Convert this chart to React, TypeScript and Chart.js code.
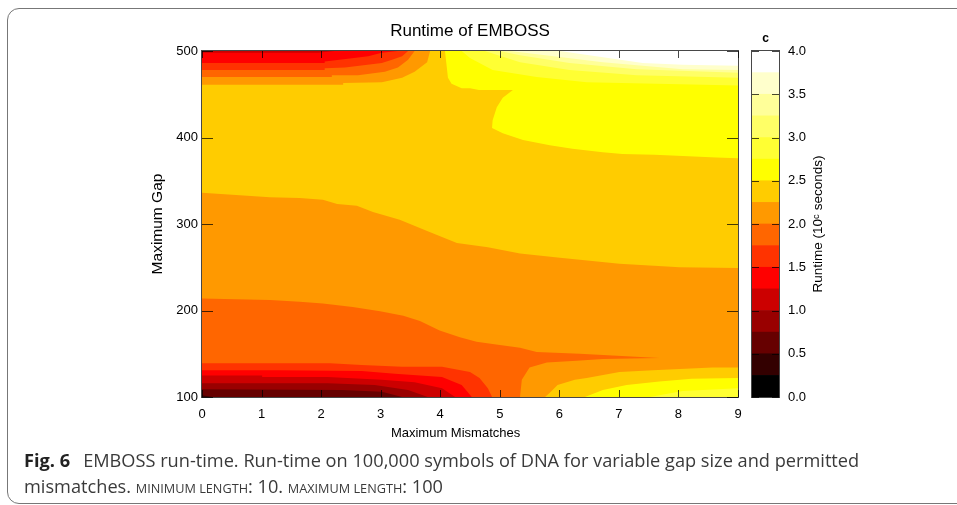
import React, { useEffect, useRef } from "react";
import { Chart, registerables } from "chart.js";

Chart.register(...registerables);

type P = [number, number];

const xTicksMax = 9;
const yMin = 100;
const yMax = 500;

// Runtime bands of the colour bar (bottom to top, 0.25 wide each)
const barBandWidth = 0.25;
const barColors = [
  "#000000", "#330000", "#660000", "#990000", "#cc0000", "#ff0000", "#ff3300", "#ff6600",
  "#ff9900", "#ffcc00", "#ffff00", "#ffff33", "#ffff66", "#ffff99", "#ffffcc", "#ffffff",
];

// Contour regions in data units (mismatches, gap)
const regionAll: P[] = [[0, 100], [9, 100], [9, 500], [0, 500]];
const regionUpper: P[] = [[0, 336], [1.14, 331], [1.64, 330], [2.03, 328], [2.27, 323], [2.6, 321], [2.87, 314], [3.32, 305], [3.78, 292], [4.28, 278], [4.8, 273], [5.34, 266], [6.01, 261], [7.01, 254], [8.02, 250], [9, 249], [9, 500], [0, 500]];

const topLeft22: P[] = [[0, 461], [2.37, 461], [2.37, 463], [3.02, 464], [3.36, 469], [3.57, 476], [3.78, 487], [3.83, 500], [0, 500]];
const topLeft20: P[] = [[0, 470], [2.18, 470], [2.18, 472], [2.62, 472], [3.07, 476], [3.29, 481], [3.46, 490], [3.57, 500], [0, 500]];
const topLeft17: P[] = [[0, 478], [2.06, 478], [2.06, 480], [2.4, 481], [3.02, 486], [3.19, 490], [3.36, 494], [3.46, 500], [0, 500]];
const topLeft15: P[] = [[0, 486], [2.06, 486], [2.06, 488], [2.45, 491], [2.79, 494], [3.02, 498], [3.29, 500], [0, 500]];
const topLeft12: P[] = [[0, 498], [1.95, 498], [2.23, 500], [0, 500]];

const topRight25: P[] = [[4.08, 500], [4.13, 469], [4.19, 462], [4.36, 457], [4.5, 457], [4.65, 455], [5.22, 455], [5.05, 446], [4.95, 435], [4.88, 420], [4.87, 411], [5.05, 405], [5.39, 397], [5.84, 391], [6.22, 387], [6.73, 383], [7.06, 381], [7.6, 380], [8.64, 377], [9, 376], [9, 500]];
const topRight27: P[] = [[4.36, 500], [4.5, 492], [4.88, 478], [5.62, 470], [6.46, 464], [9, 460], [9, 500]];
const topRight30: P[] = [[4.75, 500], [5.34, 487], [6.17, 478], [7.3, 472], [9, 469], [9, 500]];
const topRight32: P[] = [[5, 500], [5.34, 495], [6.17, 486], [7.3, 479], [9, 475], [9, 500]];
const topRight35: P[] = [[5.17, 500], [6.01, 493], [6.73, 487], [8.07, 479], [9, 478], [9, 500]];
const topRight37: P[] = [[6.01, 500], [7.4, 486], [8.07, 484], [9, 483], [9, 500]];

const lowLeft17: P[] = [[0, 214], [1.14, 212], [1.64, 210], [2.03, 208], [2.53, 204], [2.99, 199], [3.38, 194], [3.66, 188], [3.99, 177], [4.33, 169], [4.61, 164], [5, 160], [5.34, 157], [5.62, 152], [6.34, 150], [7.68, 145], [6.73, 144], [6.29, 142], [5.79, 140], [5.5, 134], [5.37, 120], [5.34, 100], [0, 100]];
const lowLeft15: P[] = [[0, 139], [2.15, 139], [2.68, 137], [3.36, 135], [4.03, 135], [4.5, 129], [4.66, 122], [4.8, 110], [4.87, 100], [0, 100]];
const lowLeft12: P[] = [[0, 131], [1.28, 131], [2.68, 130], [3.24, 127], [4.03, 123], [4.36, 114], [4.53, 100], [0, 100]];
const lowLeft10: P[] = [[0, 125], [1.01, 125], [1.01, 123], [2.11, 123], [3.02, 120], [3.57, 117], [4.03, 110], [4.25, 100], [0, 100]];
const lowLeft07: P[] = [[0, 116], [2.11, 116], [2.9, 114], [3.46, 108], [3.79, 100], [0, 100]];
const lowLeft05: P[] = [[0, 109], [2.35, 108], [3.02, 106], [3.36, 100], [0, 100]];
const lowLeft02: P[] = [[0, 102], [0.17, 100], [0, 100]];

const lowRight22: P[] = [[5.76, 100], [5.84, 105], [5.97, 114], [6.26, 120], [6.46, 122], [7.01, 129], [7.57, 131], [8.57, 134], [9, 134], [9, 100]];
const lowRight25: P[] = [[6.43, 100], [6.73, 108], [7.13, 114], [7.68, 118], [8.22, 121], [9, 122], [9, 100]];
const lowRight27: P[] = [[7.52, 100], [8.07, 107], [9, 110], [9, 100]];

const layers: [P[], string][] = [
  [regionAll, "#ff9900"], [regionUpper, "#ffcc00"],
  [topLeft22, "#ff9900"], [topLeft20, "#ff6600"], [topLeft17, "#ff3300"], [topLeft15, "#ff0000"], [topLeft12, "#cc0000"],
  [topRight25, "#ffff00"], [topRight27, "#ffff33"], [topRight30, "#ffff66"], [topRight32, "#ffff99"], [topRight35, "#ffffcc"], [topRight37, "#ffffff"],
  [lowLeft17, "#ff6600"], [lowLeft15, "#ff3300"], [lowLeft12, "#ff0000"], [lowLeft10, "#cc0000"], [lowLeft07, "#990000"], [lowLeft05, "#660000"], [lowLeft02, "#330000"],
  [lowRight22, "#ffcc00"], [lowRight25, "#ffff00"], [lowRight27, "#ffff33"],
];

const FONT = "'Liberation Sans', Arial, sans-serif";
const LINE = "rgba(0,0,0,0.72)";

const framePlugin = {
  id: "frame",
  afterDraw(chart: any, _a: any, opts: any) {
    const { ctx, chartArea: a, scales } = chart;
    ctx.save();
    ctx.strokeStyle = LINE;
    ctx.lineWidth = 1;
    ctx.beginPath();
    const xs = scales.x;
    const ys = scales.y;
    if (opts.xTick) {
      xs.ticks.forEach((t: any) => {
        const p = Math.round(xs.getPixelForValue(t.value)) + 0.5;
        ctx.moveTo(p, a.top);
        ctx.lineTo(p, a.top + opts.xTick);
        ctx.moveTo(p, a.bottom);
        ctx.lineTo(p, a.bottom - opts.xTick);
      });
    }
    ys.ticks.forEach((t: any) => {
      const p = Math.round(ys.getPixelForValue(t.value)) + 0.5;
      ctx.moveTo(a.left, p);
      ctx.lineTo(a.left + opts.yTick, p);
      ctx.moveTo(a.right, p);
      ctx.lineTo(a.right - opts.yTick, p);
    });
    ctx.stroke();
    ctx.strokeRect(a.left - 0.5, a.top - 0.5, a.right - a.left + 1, a.bottom - a.top + 1);
    ctx.restore();
  },
};

const barLabelPlugin = {
  id: "barLabel",
  afterDraw(chart: any) {
    const { ctx, chartArea: a } = chart;
    ctx.save();
    ctx.translate(a.right + 39, (a.top + a.bottom) / 2);
    ctx.rotate(-Math.PI / 2);
    ctx.font = `13.5px ${FONT}`;
    ctx.fillStyle = "#000";
    ctx.textAlign = "center";
    ctx.textBaseline = "middle";
    ctx.fillText("Runtime (10\u1D9C seconds)", 0, 0);
    ctx.restore();
  },
};

export default function App() {
  const mainRef = useRef<HTMLCanvasElement>(null);
  const barRef = useRef<HTMLCanvasElement>(null);

  useEffect(() => {
    const main = new Chart(mainRef.current!, {
      type: "line",
      data: {
        datasets: layers.map(([pts, color], i) => ({
          data: pts.map(([x, y]) => ({ x, y })),
          backgroundColor: color,
          borderWidth: 0,
          pointRadius: 0,
          fill: "shape",
          tension: 0,
          order: layers.length - i,
        })),
      },
      plugins: [framePlugin],
      options: {
        animation: false,
        responsive: false,
        events: [],
        layout: { padding: { left: 148, right: 219, top: 0, bottom: 58 } },
        plugins: {
          legend: { display: false },
          tooltip: { enabled: false },
          title: {
            display: true,
            text: "Runtime of EMBOSS",
            fullSize: false,
            color: "#000",
            font: { family: FONT, size: 17, weight: "normal" },
            padding: { top: 20.8, bottom: 9.8 },
          },
          frame: { xTick: 7, yTick: 11 },
        } as any,
        scales: {
          x: {
            type: "linear",
            min: 0,
            max: xTicksMax,
            grid: { display: false, drawTicks: false },
            border: { display: false },
            afterFit: (s: any) => { s.height = 50; },
            ticks: { stepSize: 1, padding: 9.5, color: "#000", maxRotation: 0, font: { family: FONT, size: 13 } },
            title: {
              display: true,
              text: "Maximum Mismatches        ",
              color: "#000",
              font: { family: FONT, size: 13 },
              padding: { top: 0, bottom: 5.6 },
            },
          },
          y: {
            type: "linear",
            min: yMin,
            max: yMax,
            grid: { display: false, drawTicks: false },
            border: { display: false },
            afterFit: (s: any) => { s.width = 54; },
            ticks: { stepSize: 100, padding: 4, color: "#000", font: { family: FONT, size: 13 } },
            title: {
              display: true,
              text: "Maximum Gap",
              color: "#000",
              font: { family: FONT, size: 15.5 },
              padding: 0,
            },
          },
        },
      } as any,
    });

    const bar = new Chart(barRef.current!, {
      type: "bar",
      data: {
        labels: ["c"],
        datasets: barColors.map((color) => ({
          data: [barBandWidth],
          backgroundColor: color,
          borderWidth: 0,
          barPercentage: 1,
          categoryPercentage: 1,
        })),
      },
      plugins: [framePlugin, barLabelPlugin],
      options: {
        animation: false,
        responsive: false,
        events: [],
        layout: { padding: { left: 12, right: 0, top: 0, bottom: 108 } },
        plugins: {
          legend: { display: false },
          tooltip: { enabled: false },
          title: {
            display: true,
            text: "c",
            fullSize: false,
            color: "#000",
            font: { family: FONT, size: 12, weight: "bold" },
            padding: { top: 31.8, bottom: 4.8 },
          },
          frame: { xTick: 0, yTick: 7 },
        } as any,
        scales: {
          x: { stacked: true, display: false },
          y: {
            stacked: true,
            position: "right",
            min: 0,
            max: 4,
            grid: { display: false, drawTicks: false },
            border: { display: false },
            afterFit: (s: any) => { s.width = 71; },
            ticks: {
              stepSize: 0.5,
              padding: 9,
              color: "#000",
              font: { family: FONT, size: 13 },
              callback: (v: any) => Number(v).toFixed(1),
            },
          },
        },
      } as any,
    });

    return () => {
      main.destroy();
      bar.destroy();
    };
  }, []);

  const captionLine: React.CSSProperties = {
    position: "absolute",
    left: 24,
    whiteSpace: "nowrap",
    fontFamily: "'Open Sans', 'Noto Sans', sans-serif",
    fontSize: 18.2,
    lineHeight: "24px",
    color: "#3a3a3a",
  };
  const smallCaps: React.CSSProperties = { fontSize: 12.7 };

  return (
    <div style={{ position: "absolute", left: 0, top: 0, width: 957, height: 505, overflow: "hidden", background: "#fff" }}>
      <div
        style={{
          position: "absolute",
          left: 7,
          top: 8,
          width: 1000,
          height: 496,
          border: "1px solid #777",
          borderRadius: 12,
          boxSizing: "border-box",
        }}
      />
      <canvas ref={mainRef} width={957} height={505} style={{ position: "absolute", left: 0, top: 0 }} />
      <canvas ref={barRef} width={110} height={505} style={{ position: "absolute", left: 740, top: 0 }} />
      <div style={{ ...captionLine, top: 448 }}>
        <b style={{ color: "#222" }}>Fig. 6</b>
        <span style={{ marginLeft: 13 }}>
          EMBOSS run-time. Run-time on 100,000 symbols of DNA for variable gap size and permitted
        </span>
      </div>
      <div style={{ ...captionLine, top: 474 }}>
        mismatches. <span style={smallCaps}>MINIMUM LENGTH</span>: 10. <span style={smallCaps}>MAXIMUM LENGTH</span>: 100
      </div>
    </div>
  );
}
